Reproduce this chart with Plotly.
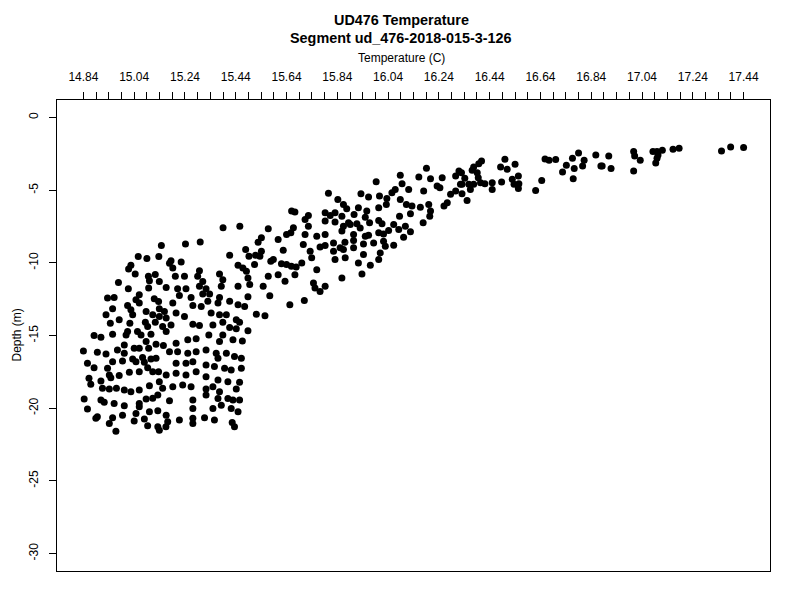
import plotly.graph_objects as go

# ---- data: (temperature C, depth m) ----
# deep cluster, left part
temp_a = [15.147,15.056,15.09,15.137,15.179,15.027,15.018,15.044,15.096,15.123,15.10,15.139,14.978,15.017,15.097,15.166,
          14.961,14.935,15.06,15.047,15.119,15.06,15.136,15.014,14.955,15.027,15.087,15.139,15.159,14.929,15.034,15.113,
          15.139,15.166,14.981,14.946,15.023,15.084,15.123,15.093,15.152,14.882,14.909,14.955,15.014,15.053,15.008,15.067,
          15.106,15.166,15.087,15.001,15.04,15.06,15.126,15.097,15.155,14.84,14.895,14.929,14.974,15.001,15.034,15.073,
          15.106,15.126,15.179,14.856,14.882,14.955,14.994,15.047,15.08,15.093,14.935,15.021,15.06,15.113,15.136,15.166,
          14.862,14.909,14.942,14.981,14.948,14.869,14.915,14.942,14.97,15.001,15.027,15.06,15.10,15.139,15.152,14.843,
          14.909,14.922,14.961,15.001,15.06,15.087,15.113,15.133,15.179,14.856,14.895,14.955,14.994,15.047,15.06,15.10,
          15.133,15.166,14.889,14.942,15.04,15.08,15.093,15.133,15.172,14.968,15.139]
depth_a = [-8.81,-9.57,-9.71,-9.57,-10.03,-10.17,-10.42,-10.77,-10.93,-10.81,-11.23,-11.28,-11.35,-11.78,-11.73,-11.69,
           -12.38,-12.42,-12.19,-12.54,-12.47,-12.77,-12.66,-12.93,-13.16,-13.23,-13.35,-13.16,-13.35,-13.58,-13.58,-13.58,
           -13.69,-13.80,-13.92,-14.15,-14.15,-14.08,-14.08,-14.38,-14.38,-15.00,-15.12,-14.91,-14.73,-14.73,-14.96,-14.96,
           -14.91,-14.73,-15.42,-15.65,-15.87,-15.87,-15.60,-15.87,-15.69,-16.06,-16.15,-16.27,-15.99,-16.22,-16.61,-16.52,
           -16.61,-16.57,-16.11,-16.91,-17.21,-16.80,-16.75,-16.80,-16.84,-17.21,-17.25,-17.53,-17.49,-17.49,-17.49,-17.72,
           -17.94,-18.13,-17.72,-17.76,-17.90,-18.36,-18.63,-18.68,-18.63,-18.75,-18.87,-18.75,-18.45,-18.18,-18.63,-19.37,
           -19.44,-19.60,-19.67,-19.83,-19.67,-19.37,-19.32,-19.10,-19.49,-20.06,-20.59,-20.66,-20.48,-20.36,-19.90,-20.25,
           -20.18,-20.48,-20.70,-21.05,-20.89,-20.75,-21.21,-21.28,-20.94,-21.58,-21.51]

# deep cluster, right part
temp_b = [15.242,15.30,15.479,15.416,15.492,15.518,15.185,15.225,15.192,15.297,15.449,15.468,15.482,15.514,15.202,15.238,
          15.29,15.31,15.376,15.389,15.488,15.495,15.211,15.244,15.297,15.323,15.383,15.449,15.218,15.264,15.31,15.337,
          15.376,15.488,15.192,15.271,15.304,15.33,15.37,15.416,15.449,15.475,15.205,15.238,15.343,15.376,15.403,15.442,
          15.521,15.185,15.271,15.297,15.35,15.389,15.455,15.416,15.442,15.488,15.205,15.251,15.284,15.334,15.389,15.429,
          15.466,15.376,15.211,15.251,15.284,15.323,15.363,15.403,15.435,15.462,15.37,15.205,15.244,15.271,15.323,15.356,
          15.396,15.422,15.462,15.205,15.244,15.284,15.323,15.37,15.409,15.455,15.192,15.231,15.264,15.323,15.35,15.376,
          15.442,15.271,15.323,15.37,15.409,15.429,15.455,15.271,15.35,15.383,15.422,15.449,15.218,15.271,15.317,15.356,
          15.426,15.165,15.271,15.435]
depth_b = [-8.70,-8.56,-9.09,-9.48,-9.55,-9.48,-9.85,-9.94,-10.35,-10.54,-10.17,-10.35,-10.58,-10.12,-10.93,-10.93,
           -10.93,-11.28,-10.77,-11.16,-11.04,-11.50,-11.78,-11.78,-11.62,-11.78,-11.62,-11.62,-12.24,-12.38,-12.15,-12.15,
           -12.38,-12.33,-12.77,-12.93,-13.00,-12.65,-12.77,-12.65,-12.88,-13.00,-13.46,-13.69,-13.46,-13.58,-13.58,-13.92,
           -13.53,-14.27,-14.22,-14.31,-14.27,-14.08,-14.08,-14.45,-14.54,-14.68,-15.53,-15.30,-15.23,-14.96,-14.96,-15.30,
           -15.37,-15.42,-16.11,-16.22,-16.11,-15.99,-16.22,-16.22,-16.45,-16.57,-16.57,-16.91,-16.91,-16.80,-17.03,-17.14,
           -17.25,-17.37,-17.25,-17.60,-17.72,-17.49,-17.83,-18.06,-18.18,-18.22,-18.52,-18.41,-18.52,-18.68,-18.52,-18.87,
           -18.68,-19.44,-19.10,-19.33,-19.33,-19.44,-19.44,-20.02,-20.02,-19.79,-20.02,-20.25,-20.82,-20.70,-20.66,-20.82,
           -20.98,-21.28,-21.05,-21.28]

# transition zone, lower part
temp_c = [15.39,15.456,15.805,15.842,15.864,15.877,15.66,15.673,15.726,15.792,15.812,15.831,15.858,15.884,15.713,15.792,
          15.831,15.726,15.864,15.568,15.667,15.657,15.64,15.858,15.713,15.759,15.792,15.541,15.607,15.528,15.706,15.772,
          15.792,15.825,15.87,15.851,15.864,15.541,15.627,15.733,15.825,15.535,15.739,15.831,15.871,15.588,15.578,15.62,
          15.64,15.659,15.678,15.70,15.759,15.568,15.607,15.634,15.673,15.746,15.752,15.772,15.792,15.858,15.548,15.574,
          15.653,15.71,15.555]
depth_c = [-7.59,-7.48,-5.22,-5.64,-5.98,-6.28,-6.44,-6.51,-6.74,-6.56,-6.74,-6.56,-6.79,-7.25,-7.02,-7.13,
           -7.20,-7.48,-7.48,-7.66,-7.59,-7.94,-8.05,-7.82,-8.05,-8.17,-8.05,-8.28,-8.40,-8.58,-8.74,-8.91,
           -8.81,-8.63,-8.58,-8.97,-9.09,-9.20,-9.13,-9.20,-9.20,-9.55,-9.66,-9.78,-9.66,-9.78,-9.89,-10.06,
           -10.12,-10.24,-10.28,-10.01,-10.47,-10.93,-10.82,-11.27,-10.82,-11.39,-11.73,-11.97,-11.62,-11.04,-11.62,-12.26,
           -12.89,-12.59,-13.64]

# transition zone, upper part
temp_d = [16.191,16.088,16.161,16.207,16.253,16.306,16.319,15.993,16.095,16.121,16.068,16.055,16.18,16.233,16.244,16.286,
          16.306,16.325,15.933,15.963,16.006,16.035,16.088,16.112,16.134,16.167,16.20,16.207,16.273,16.26,15.923,15.956,
          16.003,16.033,15.906,15.95,16.003,16.016,16.062,16.085,16.128,16.108,16.128,16.178,16.204,15.891,15.917,15.967,
          15.93,16.042,16.082,16.003,15.904,15.963,15.95,16.022,16.101,15.904,15.943,15.983,16.022,16.029,16.062,15.904,
          16.009,15.943,16.003,15.923,15.97,15.937]
depth_d = [-3.50,-3.98,-4.10,-4.21,-4.14,-4.03,-3.68,-4.42,-4.56,-4.95,-4.95,-5.18,-5.06,-4.72,-4.83,-5.29,
           -5.06,-4.60,-5.25,-5.48,-5.41,-5.57,-5.64,-5.98,-6.10,-6.17,-5.98,-6.44,-5.87,-6.10,-6.21,-6.44,
           -6.21,-5.98,-6.67,-6.86,-7.09,-7.32,-7.36,-6.79,-6.63,-7.48,-7.87,-7.25,-6.79,-7.36,-7.32,-7.25,
           -7.60,-7.78,-7.71,-7.94,-8.05,-8.10,-8.17,-8.01,-8.24,-8.47,-8.70,-8.63,-8.51,-8.86,-8.79,-8.97,
           -9.32,-9.43,-9.78,-10.01,-10.17,-10.77]

# near-surface warm layer
temp_e = [16.408,16.397,16.50,16.483,16.509,16.54,16.658,16.674,16.70,16.766,16.79,16.812,16.806,16.858,16.878,16.742,
          16.727,16.773,16.769,16.377,16.371,16.391,16.395,16.404,16.329,16.342,16.331,16.331,16.364,16.358,16.377,16.421,
          16.45,16.45,16.487,16.529,16.553,16.536,16.555,16.553,16.645,16.621,16.351,
          16.909,16.883,16.918,17.007,17.011,17.033,17.007,17.083,17.099,17.12,17.103,17.099,17.094,17.162,17.186,17.353,
          17.389,17.44]
depth_e = [-2.99,-3.18,-2.88,-3.41,-3.57,-3.22,-2.86,-2.95,-2.90,-2.81,-2.44,-2.95,-3.34,-2.58,-3.34,-3.29,
           -3.75,-3.52,-4.21,-3.41,-3.64,-3.80,-4.14,-4.49,-3.80,-4.19,-4.60,-5.25,-4.95,-4.60,-4.60,-4.56,
           -4.49,-4.95,-4.44,-4.26,-4.03,-4.60,-4.56,-4.88,-4.33,-5.02,-5.71,
           -2.65,-3.34,-3.52,-2.35,-2.65,-2.95,-3.68,-2.35,-2.35,-2.26,-2.58,-2.81,-3.13,-2.19,-2.12,-2.30,
           -2.03,-2.07]

x_tick_labels = ["14.84", "15.04", "15.24", "15.44", "15.64", "15.84", "16.04",
                 "16.24", "16.44", "16.64", "16.84", "17.04", "17.24", "17.44"]
y_tick_values = [0, -5, -10, -15, -20, -25, -30]
y_tick_labels = ["0", "-5", "-10", "-15", "-20", "-25", "-30"]

temperature = temp_a + temp_b + temp_c + temp_d + temp_e
depth = depth_a + depth_b + depth_c + depth_d + depth_e

# axis ticks: labelled every 0.2, unlabelled marks every 0.05
x_major = [float(s) for s in x_tick_labels]
n_minor = int(round((x_major[-1] - x_major[0]) / 0.05))
x_tickvals = [round(x_major[0] + 0.05 * i, 4) for i in range(n_minor + 1)]
label_map = {round(v, 4): s for v, s in zip(x_major, x_tick_labels)}
x_ticktext = [label_map.get(v, "") for v in x_tickvals]

FONT = "Liberation Sans, Arial, Helvetica, sans-serif"

fig = go.Figure()
fig.add_trace(go.Scatter(
    x=temperature, y=depth, mode="markers",
    marker=dict(color="black", size=7, line=dict(width=0)),
    showlegend=False, hoverinfo="x+y"))

# the page body adds an 8px offset; target box on screen: x 57..770, y 100..571
OFF = 8
W, H = 800, 600
ml, mr, mt, mb = 57 - OFF, 800 - 770 + OFF, 100 - OFF, 600 - 571 + OFF
pw = W - ml - mr
ph = H - mt - mb

def px_x(xs):   # screen x -> paper fraction
    return (xs - OFF - ml) / pw

def px_y(ys):   # screen y -> paper fraction
    return (H - mb - (ys - OFF)) / ph

fig.update_layout(
    width=W, height=H,
    margin=dict(l=ml, r=mr, t=mt, b=mb, pad=0),
    paper_bgcolor="white", plot_bgcolor="white",
    font=dict(family=FONT, size=12, color="black"),
    xaxis=dict(
        side="top", range=[14.736, 17.544], autorange=False,
        tickmode="array", tickvals=x_tickvals, ticktext=x_ticktext,
        ticks="outside", ticklen=7, tickwidth=1, tickcolor="black",
        ticklabelstandoff=6,
        showline=True, linecolor="black", linewidth=1, mirror=True,
        showgrid=False, zeroline=False, tickfont=dict(size=12),
    ),
    yaxis=dict(
        range=[-31.2, 1.2], autorange=False,
        tickmode="array", tickvals=y_tick_values, ticktext=y_tick_labels,
        ticks="outside", ticklen=7, tickwidth=1, tickcolor="black",
        tickangle=-90, ticklabelstandoff=6,
        showline=True, linecolor="black", linewidth=1, mirror=True,
        showgrid=False, zeroline=False, tickfont=dict(size=12),
    ),
    annotations=[
        dict(text="<b>UD476 Temperature</b>", xref="paper", yref="paper",
             x=px_x(401), y=px_y(20), showarrow=False,
             xanchor="center", yanchor="middle", font=dict(size=14.4)),
        dict(text="<b>Segment ud_476-2018-015-3-126</b>", xref="paper", yref="paper",
             x=px_x(401), y=px_y(38), showarrow=False,
             xanchor="center", yanchor="middle", font=dict(size=14.4)),
        dict(text="Temperature (C)", xref="paper", yref="paper",
             x=px_x(401), y=px_y(58), showarrow=False,
             xanchor="center", yanchor="middle", font=dict(size=12)),
        dict(text="Depth (m)", xref="paper", yref="paper",
             x=px_x(16), y=0.5, showarrow=False, textangle=-90,
             xanchor="center", yanchor="middle", font=dict(size=12)),
    ],
)

fig.write_html("out.html")
